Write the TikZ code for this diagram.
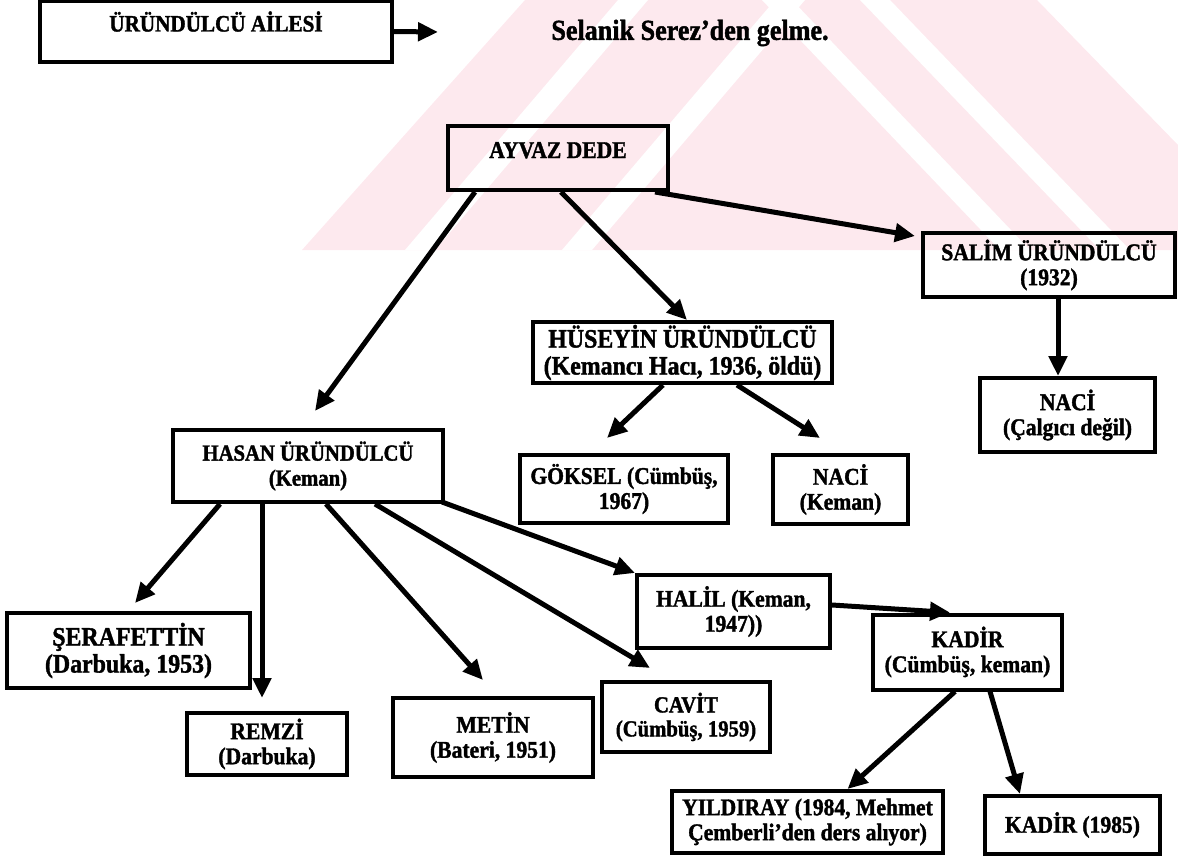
\documentclass[tikz,border=0pt]{standalone}
\usepackage{fontspec}
\setmainfont{Liberation Serif}[FakeStretch=0.9, BoldFeatures={FakeBold=1.5}]
\usetikzlibrary{arrows.meta}
\definecolor{wm}{RGB}{253,233,238}
\begin{document}
\begin{tikzpicture}[x=1pt,y=-1pt,
  box/.style={draw, line width=4pt, inner sep=0pt, align=center,
    font=\fontsize{24}{25}\selectfont\bfseries},
  arr/.style={line width=5pt, -{Triangle[length=20pt,width=18pt]}}]
\useasboundingbox (0,0) rectangle (1178,864);
% watermark
\begin{scope}
\clip (0,0) rectangle (1178,250);
\fill[wm] (302,250) -- (525,0) -- (1037,0) -- (1178,145) -- (1178,250) -- cycle;
\fill[white] (405,250) -- (435,250) -- (648,0) -- (618,0) -- cycle;
\fill[white] (562,250) -- (592,250) -- (805,0) -- (775,0) -- cycle;
\fill[white] (860,0) -- (890,0) -- (1130,250) -- (1100,250) -- cycle;
\fill[white] (762,0) -- (792,0) -- (1030,250) -- (1000,250) -- cycle;
\end{scope}
% nodes
\node[box, minimum width=352pt, minimum height=61pt, text height=16pt, text depth=16pt,
  font=\fontsize{23.5}{25}\selectfont\bfseries] (title) at (216,31.5) {ÜRÜNDÜLCÜ AİLESİ};
\coordinate (tip0) at (438,32);
\node[font=\fontsize{29}{32}\selectfont\bfseries] (origin) at (690,33) {Selanik Serez’den gelme.};
\node[box, minimum width=220pt, minimum height=64pt, text height=16pt, text depth=16pt] (ayvaz) at (558,158) {AYVAZ DEDE};
\node[box, minimum width=252pt, minimum height=64pt] (salim) at (1049,265) {SALİM ÜRÜNDÜLCÜ\\(1932)};
\node[box, minimum width=175pt, minimum height=74pt] (naci1) at (1067.5,415) {NACİ\\(Çalgıcı değil)};
\node[box, minimum width=299pt, minimum height=61pt, font=\fontsize{26.5}{27}\selectfont\bfseries] (huseyin) at (682.5,352.5) {HÜSEYİN ÜRÜNDÜLCÜ\\(Kemancı Hacı, 1936, öldü)};
\node[box, minimum width=208pt, minimum height=68pt] (goksel) at (624,489) {GÖKSEL (Cümbüş,\\1967)};
\node[box, minimum width=135pt, minimum height=69pt] (naci2) at (840.5,489.5) {NACİ\\(Keman)};
\node[box, minimum width=270pt, minimum height=72pt, font=\fontsize{23}{25}\selectfont\bfseries] (hasan) at (308,466) {HASAN ÜRÜNDÜLCÜ\\(Keman)};
\node[box, minimum width=243pt, minimum height=75pt, font=\fontsize{26.5}{27}\selectfont\bfseries] (seraf) at (128.5,650.5) {ŞERAFETTİN\\(Darbuka, 1953)};
\node[box, minimum width=160pt, minimum height=62pt] (remzi) at (267,744) {REMZİ\\(Darbuka)};
\node[box, minimum width=200pt, minimum height=79pt] (metin) at (493,737.5) {METİN\\(Bateri, 1951)};
\node[box, minimum width=168pt, minimum height=70pt, font=\fontsize{23}{24}\selectfont\bfseries] (cavit) at (686,717) {CAVİT\\(Cümbüş, 1959)};
\node[box, minimum width=193pt, minimum height=73pt] (halil) at (733.5,611.5) {HALİL (Keman,\\1947))};
\node[box, minimum width=189pt, minimum height=75pt] (kadir) at (967.5,652) {KADİR\\(Cümbüş, keman)};
\node[box, minimum width=271pt, minimum height=62pt] (yildiray) at (807.5,822) {YILDIRAY (1984, Mehmet\\Çemberli’den ders alıyor)};
\node[box, minimum width=175pt, minimum height=58pt] (kadir85) at (1072.5,825) {KADİR (1985)};
% connectors
\draw[arr] (title.east) -- (tip0);
\draw[arr] ([xshift=-83pt]ayvaz.south) -- ([xshift=7pt,yshift=17pt]hasan.north);
\draw[arr] ([xshift=3pt]ayvaz.south) -- ([xshift=4.5pt]huseyin.north);
\draw[arr] ([xshift=97pt]ayvaz.south) -- ([xshift=-6pt,yshift=-5pt]salim.north west);
\draw[arr] ([xshift=9pt]salim.south) -- ([xshift=-9.5pt]naci1.north);
\draw[arr] ([xshift=-19.5pt]huseyin.south) -- ([xshift=-17pt,yshift=15pt]goksel.north);
\draw[arr] ([xshift=54.5pt]huseyin.south) -- ([xshift=-20.5pt,yshift=15pt]naci2.north);
\draw[arr] ([xshift=-88pt]hasan.south) -- ([xshift=6.5pt,yshift=8pt]seraf.north);
\draw[arr] ([xshift=-46pt]hasan.south) -- ([xshift=-5pt,yshift=13pt]remzi.north);
\draw[arr] ([xshift=18pt]hasan.south) -- ([xshift=-10pt,yshift=16pt]metin.north);
\draw[arr] ([xshift=67pt]hasan.south) -- ([xshift=-36pt,yshift=12pt]cavit.north);
\draw[arr] ([xshift=-3pt,yshift=2pt]hasan.south east) -- (halil.north west);
\draw[arr] ([yshift=6.5pt]halil.east) -- ([xshift=-17.5pt]kadir.north);
\draw[arr] ([xshift=-12.5pt]kadir.south) -- ([xshift=40pt]yildiray.north);
\draw[arr] ([xshift=22.5pt]kadir.south) -- ([xshift=-52.5pt]kadir85.north);
\end{tikzpicture}
\end{document}
